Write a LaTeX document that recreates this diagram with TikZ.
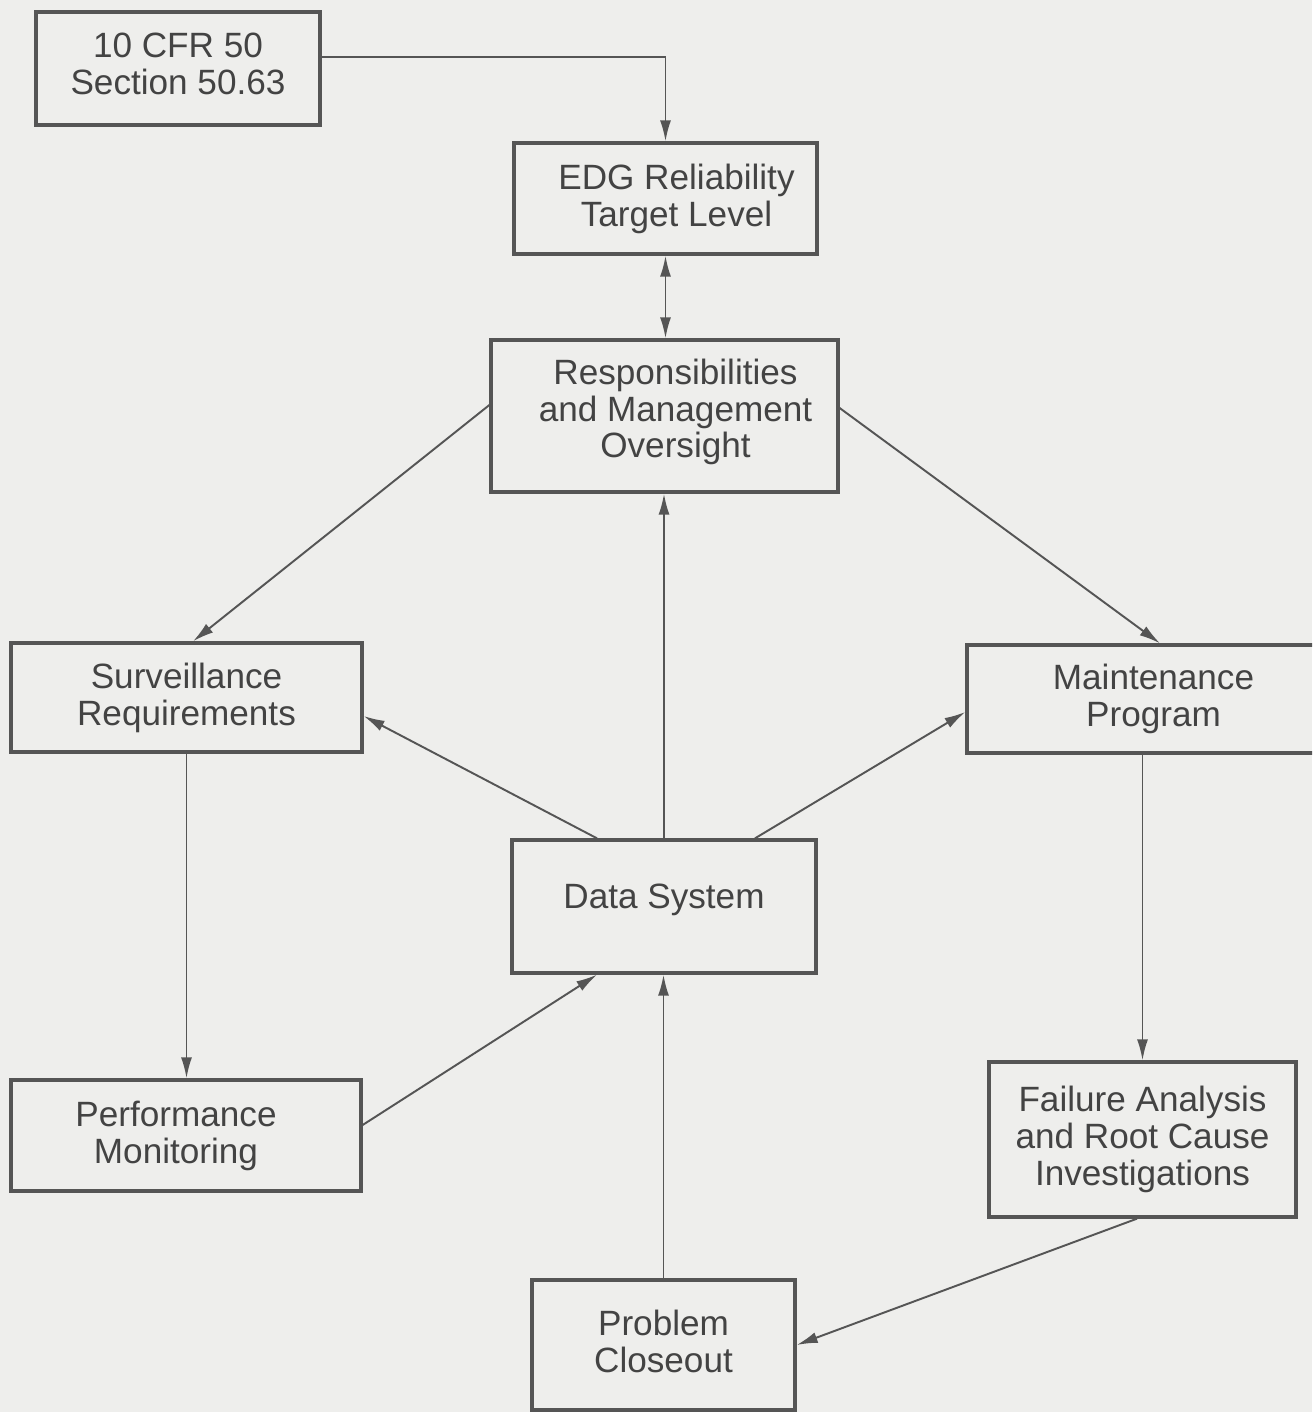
\documentclass[tikz,border=0pt]{standalone}
\usepackage{fontspec}
\setmainfont{Liberation Sans}
\usetikzlibrary{arrows.meta}
\definecolor{bgc}{HTML}{EEEEEC}
\definecolor{ink}{HTML}{555555}
\definecolor{txt}{HTML}{434343}
\begin{document}
\begin{tikzpicture}[x=0.02cm,y=-0.02cm,
  box/.style={draw=ink,line width=1.9pt,inner sep=0pt},
  lab/.style={align=center,text=txt,font=\fontsize{20}{21}\selectfont,inner sep=0pt},
  arr/.style={draw=ink,line width=1.1pt,-{Latex[length=0.42cm,width=0.22cm]}},
  arrtwo/.style={draw=ink,line width=1.1pt,{Latex[length=0.42cm,width=0.22cm]}-{Latex[length=0.42cm,width=0.22cm]}}]
\fill[bgc] (0,0) rectangle (1312,1412);
\clip (0,0) rectangle (1312,1412);

\node[box,minimum width=5.68cm,minimum height=2.26cm,
  label={[lab,yshift=0.1cm]center:{10 CFR 50\\Section 50.63}}] (cfr) at (178,68.5) {};
\node[box,minimum width=6.06cm,minimum height=2.22cm,
  label={[lab,xshift=0.22cm]center:{EDG Reliability\\Target Level}}] (edg) at (665.5,198.5) {};
\node[box,minimum width=6.94cm,minimum height=3.04cm,
  label={[lab,xshift=0.22cm,yshift=0.08cm]center:{Responsibilities\\and Management\\Oversight}}] (resp) at (664.5,416) {};
\node[box,minimum width=7.02cm,minimum height=2.18cm,
  label={[lab]center:{Surveillance\\Requirements}}] (surv) at (186.5,697.5) {};
\node[box,minimum width=7.46cm,minimum height=2.16cm,
  label={[lab]center:{Maintenance\\Program}}] (maint) at (1153.5,699) {};
\node[box,minimum width=6.08cm,minimum height=2.66cm,
  label={[lab,yshift=0.14cm]center:{Data System}}] (data) at (664,906.5) {};
\node[box,minimum width=7.00cm,minimum height=2.22cm,
  label={[lab,xshift=-0.2cm]center:{Performance\\Monitoring}}] (perf) at (186,1135.5) {};
\node[box,minimum width=6.14cm,minimum height=3.10cm,
  label={[lab]center:{Failure Analysis\\and Root Cause\\Investigations}}] (fail) at (1142.5,1139.5) {};
\node[box,minimum width=5.26cm,minimum height=2.60cm,
  label={[lab,yshift=0.08cm]center:{Problem\\Closeout}}] (close) at (663.5,1345) {};

\draw[arr] ([yshift=0.23cm]cfr.east) -| (edg.north);
\draw[arrtwo] (edg.south) -- (edg.south |- resp.north);
\draw[arr] ([yshift=0.22cm]resp.west) -- ([xshift=0.13cm]surv.north);
\draw[arr] ([yshift=0.16cm]resp.east) -- ([xshift=0.13cm]maint.north);
\draw[arr] ([xshift=-1.34cm]data.north) -- ([yshift=-0.37cm]surv.east);
\draw[arr] (data.north) -- (data.north |- resp.south);
\draw[arr] ([xshift=1.82cm]data.north) -- ([yshift=-0.26cm]maint.west);
\draw[arr] (surv.south) -- (surv.south |- perf.north);
\draw[arr] ([yshift=0.21cm]perf.east) -- ([xshift=-1.34cm]data.south);
\draw[arr] (fail.north |- maint.south) -- (fail.north);
\draw[arr] ([xshift=-0.11cm]fail.south) -- (close.east);
\draw[arr] (close.north) -- (close.north |- data.south);
\end{tikzpicture}
\end{document}
